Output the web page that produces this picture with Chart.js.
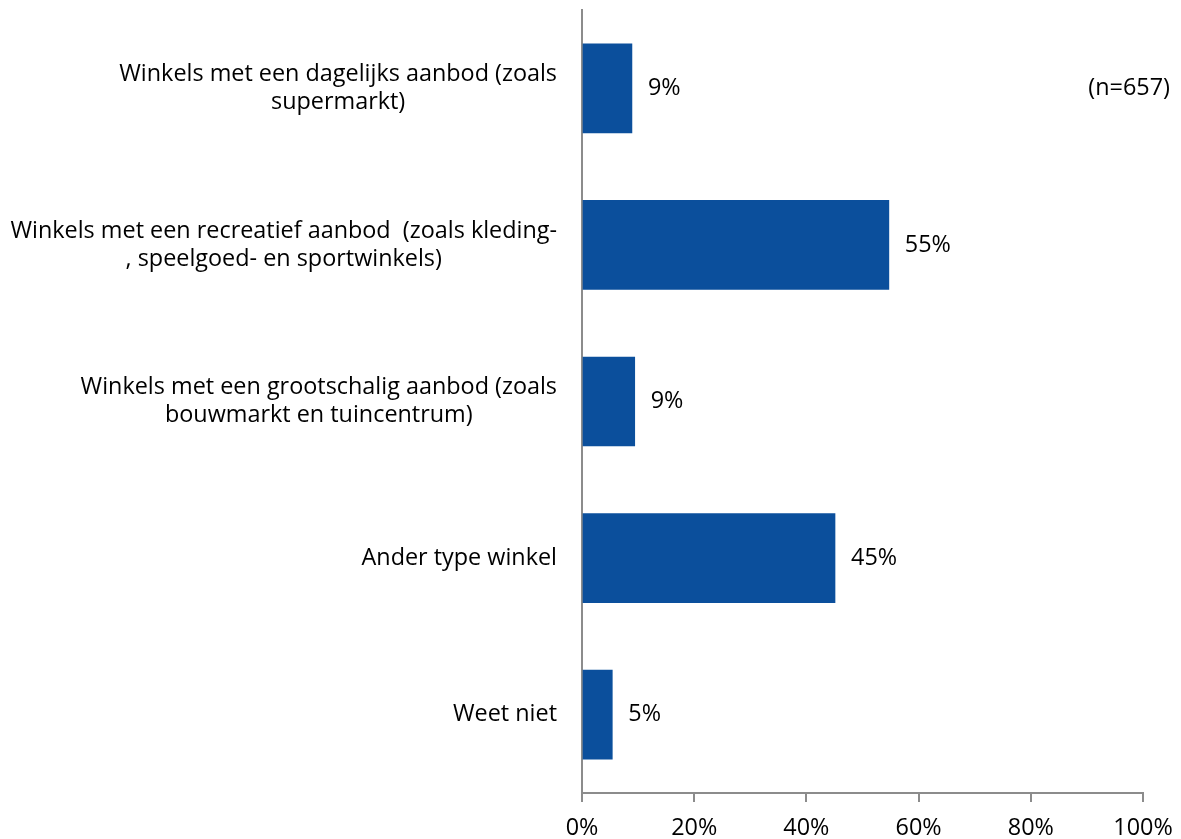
<!DOCTYPE html>
<html>
<head>
<meta charset="utf-8">
<script src="https://cdn.jsdelivr.net/npm/chart.js@4.4.1/dist/chart.umd.min.js"></script>
<style>
  html, body { margin: 0; padding: 0; background: #fff; }
  #wrap { width: 1181px; height: 839px; }
</style>
</head>
<body>
<div id="wrap"><canvas id="winkelChart"></canvas></div>
<script>
const categories = [
    ['Winkels met een dagelijks aanbod (zoals', 'supermarkt)'],
    ['Winkels met een recreatief aanbod  (zoals kleding-', ', speelgoed- en sportwinkels)'],
    ['Winkels met een grootschalig aanbod (zoals', 'bouwmarkt en tuincentrum)'],
    ['Ander type winkel'],
    ['Weet niet']
];
const percentages = [8.9, 54.7, 9.4, 45.1, 5.4];
const valueLabels = ['9%', '55%', '9%', '45%', '5%'];
const xTicks = [0, 20, 40, 60, 80, 100];
const sampleNote = '(n=657)';

const fontFamily = '"Open Sans", Lato, sans-serif';
const fontSize = 23.4;
const axisGray = '#8c8c8c';

// y labels: block right-aligned, lines centered inside the block
const categoryLabels = {
    id: 'categoryLabels',
    afterDraw(chart) {
        const ctx = chart.ctx;
        const yScale = chart.scales.y;
        const right = chart.chartArea.left - 25;
        const lineHeight = 28;
        ctx.save();
        ctx.font = fontSize + 'px ' + fontFamily;
        ctx.fillStyle = '#000';
        ctx.textBaseline = 'middle';
        ctx.textAlign = 'center';
        categories.forEach((lines, i) => {
            const y = yScale.getPixelForTick(i);
            const maxW = Math.max(...lines.map(l => ctx.measureText(l).width));
            const cx = right - maxW / 2;
            const startY = y - (lines.length - 1) * lineHeight / 2;
            lines.forEach((line, j) => ctx.fillText(line, cx, startY + j * lineHeight));
        });
        ctx.restore();
    }
};

const barValues = {
    id: 'barValues',
    afterDatasetsDraw(chart) {
        const ctx = chart.ctx;
        const meta = chart.getDatasetMeta(0);
        ctx.save();
        ctx.font = fontSize + 'px ' + fontFamily;
        ctx.fillStyle = '#000';
        ctx.textBaseline = 'middle';
        ctx.textAlign = 'left';
        meta.data.forEach((bar, i) => {
            ctx.fillText(valueLabels[i], bar.x + 16, bar.y);
        });
        // sample size note
        ctx.textAlign = 'right';
        ctx.fillText(sampleNote, chart.width - 11, meta.data[0].y);
        ctx.restore();
    }
};

const ctx = document.getElementById('winkelChart').getContext('2d');
const winkelChart = new Chart(ctx, {
    type: 'bar',
    data: {
        labels: categories,
        datasets: [{
            data: percentages,
            backgroundColor: '#0b4f9c',
            borderWidth: 0,
            barThickness: 89,
            categoryPercentage: 1
        }]
    },
    options: {
        indexAxis: 'y',
        responsive: true,
        maintainAspectRatio: false,
        animation: false,
        layout: { padding: { left: 582, right: 38, top: 10, bottom: 0 } },
        plugins: {
            legend: { display: false },
            tooltip: { enabled: false }
        },
        scales: {
            x: {
                min: 0,
                max: 100,
                afterBuildTicks(scale) {
                    scale.ticks = xTicks.map(v => ({ value: v }));
                },
                afterFit(scale) {
                    scale.height = 46;
                    scale.paddingRight = 0;
                    scale.paddingLeft = 0;
                },
                grid: {
                    display: true,
                    drawOnChartArea: false,
                    drawTicks: true,
                    tickLength: 9,
                    color: axisGray,
                    lineWidth: 2
                },
                border: { display: true, color: axisGray, width: 2 },
                ticks: {
                    color: '#000',
                    font: { family: fontFamily, size: fontSize },
                    padding: 12,
                    maxRotation: 0,
                    callback: v => v + '%'
                }
            },
            y: {
                afterFit(scale) {
                    scale.width = 0;
                },
                grid: { display: false },
                border: { display: true, color: axisGray, width: 2 },
                ticks: { display: false }
            }
        }
    },
    plugins: [categoryLabels, barValues]
});
</script>
</body>
</html>
